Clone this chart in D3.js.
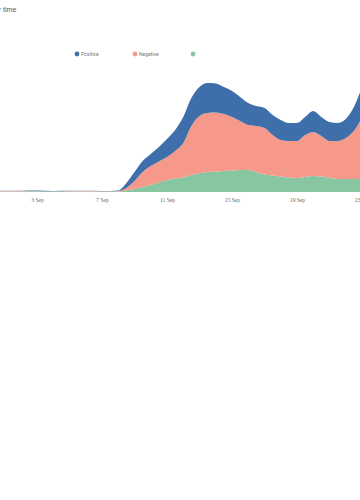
<!DOCTYPE html>
<html>
<head>
<meta charset="utf-8">
<script src="https://cdn.jsdelivr.net/npm/d3@7"></script>
<style>
  html, body { margin: 0; padding: 0; background: #fff; }
  svg { display: block; }
</style>
</head>
<body>
<svg id="chart" width="360" height="500"></svg>
<script>
// ---- data ----
const dates = [
  "2019-08-31 00:00","2019-09-01 00:00","2019-09-02 00:00","2019-09-03 00:00",
  "2019-09-04 00:00","2019-09-05 00:00","2019-09-06 00:00",
  "2019-09-07 00:00","2019-09-07 12:00","2019-09-08 00:00","2019-09-08 12:00",
  "2019-09-09 00:00","2019-09-09 12:00","2019-09-10 00:00","2019-09-10 12:00",
  "2019-09-11 00:00","2019-09-11 12:00","2019-09-12 00:00","2019-09-12 12:00",
  "2019-09-13 00:00","2019-09-13 12:00","2019-09-14 00:00","2019-09-14 12:00",
  "2019-09-15 00:00","2019-09-15 12:00","2019-09-16 00:00","2019-09-16 12:00",
  "2019-09-17 00:00","2019-09-17 12:00","2019-09-18 00:00","2019-09-18 12:00",
  "2019-09-19 00:00","2019-09-19 12:00","2019-09-20 00:00","2019-09-20 12:00",
  "2019-09-21 00:00","2019-09-21 12:00","2019-09-22 00:00","2019-09-22 12:00",
  "2019-09-23 00:00","2019-09-23 12:00"
];
const neutral = [
  0.4,0.6,0.5,0.7,0.5,0.6,0.5,
  0.4,0.4,0.5,1.5,3,5,7,9.5,12,13.5,14.5,17,19,20,20.5,21,21.5,22,22,20,
  17.5,16.5,15.5,14.5,14,15,16,15.5,14.5,13,13,13,13,13
];
const negative = [
  0.3,0.4,0.5,0.4,0.3,0.5,0.4,
  0.3,0.3,0.5,2.5,8,15,19,21,23,27.5,34.5,49,57,59,59,57,53.5,49,45,46,
  46.5,40.5,36.5,36.5,37,42,44,40.5,36.5,38,41,48,61,71
];
const positive = [
  0.2,0.3,0.2,0.3,0.3,0.2,0.3,
  0.3,0.3,0.5,5,9,11,12,14.5,18,21,26,28,29,30,29,27,26,24,22,20,
  20,20,20,18,18,18,21,19,19,18,19,24,30,33
];
const keys = ["neutral", "negative", "positive"];
const legendLabels = ["Positive", "Negative", ""];
const tickDates = ["2019-09-03 00:00","2019-09-07 00:00","2019-09-11 00:00","2019-09-15 00:00","2019-09-19 00:00","2019-09-23 00:00"];
const titleText = "Sentiment over time";

// ---- build ----
const parse = d3.timeParse("%Y-%m-%d %H:%M");
const rows = dates.map((d, i) => ({
  date: parse(d), neutral: neutral[i], negative: negative[i], positive: positive[i]
}));

const colors = { positive: "#3e6fab", negative: "#f6998a", neutral: "#87c6a0" };

const svg = d3.select("#chart");

const x = d3.scaleTime()
  .domain([parse("2019-09-03 00:00"), parse("2019-09-23 00:00")])
  .range([37, 362]);
const y = d3.scaleLinear().domain([0, 110]).range([192, 82]);

const series = d3.stack().keys(keys)(rows);

const area = d3.area()
  .curve(d3.curveMonotoneX)
  .x(d => x(d.data.date))
  .y0(d => y(d[0]))
  .y1(d => y(d[1]));

svg.append("g").selectAll("path")
  .data(series)
  .join("path")
  .attr("fill", d => colors[d.key])
  .attr("d", area);

// x axis
const xAxis = d3.axisBottom(x)
  .tickValues(tickDates.map(parse))
  .tickFormat(d3.timeFormat("%-d %b"))
  .tickSize(0)
  .tickPadding(6);
const gx = svg.append("g").attr("transform", "translate(0,192)").call(xAxis);
gx.select(".domain").remove();
gx.selectAll("text")
  .attr("font-family", "'Liberation Serif', 'DejaVu Serif', serif")
  .attr("font-size", 5.5)
  .attr("fill", "#666");

// legend
const legendKeys = ["positive", "negative", "neutral"];
const legendX = [77, 135, 193];
const lg = svg.append("g");
legendKeys.forEach((k, i) => {
  lg.append("circle").attr("cx", legendX[i]).attr("cy", 54).attr("r", 2.4).attr("fill", colors[k]);
  lg.append("text").attr("x", legendX[i] + 4).attr("y", 55.8)
    .attr("font-family", "Roboto, 'Noto Sans', sans-serif")
    .attr("font-size", 5).attr("fill", "#777")
    .text(legendLabels[i]);
});

// title
svg.append("text")
  .attr("x", 16.3).attr("y", 11.5)
  .attr("text-anchor", "end")
  .attr("font-family", "'Liberation Sans', Arial, sans-serif")
  .attr("font-size", 7).attr("fill", "#555")
  .text(titleText);
</script>
</body>
</html>
